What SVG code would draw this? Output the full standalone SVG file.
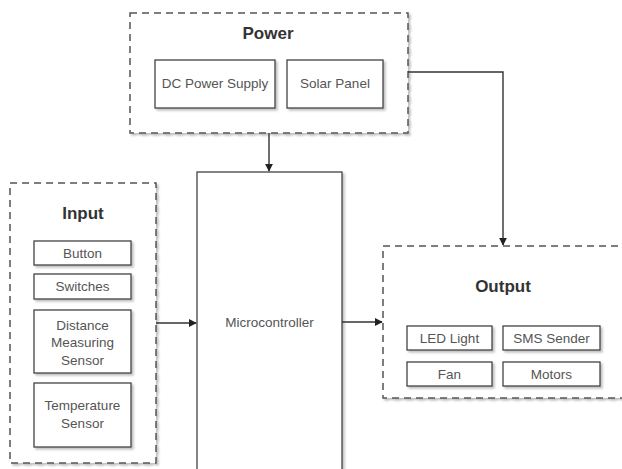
<svg xmlns="http://www.w3.org/2000/svg" width="622" height="469" viewBox="0 0 622 469">
<defs>
<marker id="ah" viewBox="0 0 10 10" refX="9" refY="5" markerWidth="8" markerHeight="8" markerUnits="userSpaceOnUse" orient="auto"><path d="M0,0 L10,5 L0,10 z" fill="#222"/></marker>
<filter id="sh" x="-10%" y="-10%" width="130%" height="130%"><feDropShadow dx="2" dy="2" stdDeviation="1" flood-color="#000" flood-opacity="0.25"/></filter>
</defs>
<style>
.grp{fill:#fff;stroke:#555;stroke-width:1.5;stroke-dasharray:7 5;filter:url(#sh)}
.box{fill:#fff;stroke:#444;stroke-width:1.3;filter:url(#sh)}
.lbl{font-family:"Liberation Sans",Arial,sans-serif;font-size:13.5px;fill:#555;text-anchor:middle}
.ttl{font-family:"Liberation Sans",Arial,sans-serif;font-size:17px;font-weight:bold;fill:#333;text-anchor:middle}
.con{fill:none;stroke:#333;stroke-width:1.4;marker-end:url(#ah)}
</style>
<rect width="622" height="469" fill="#fff"/>
<g id="power">
<rect class="grp" x="130" y="13" width="278" height="120"/>
<text class="ttl" x="268" y="39">Power</text>
<g id="dc"><rect class="box" x="155" y="60" width="120" height="48"/><text class="lbl" x="215" y="88">DC Power Supply</text></g>
<g id="solar"><rect class="box" x="287" y="60" width="96" height="48"/><text class="lbl" x="335" y="88">Solar Panel</text></g>
</g>
<g id="input">
<rect class="grp" x="10" y="183" width="146" height="280"/>
<text class="ttl" x="83" y="219">Input</text>
<g id="button"><rect class="box" x="34" y="241" width="97" height="24"/><text class="lbl" x="82.5" y="257.5">Button</text></g>
<g id="switches"><rect class="box" x="34" y="274" width="97" height="25"/><text class="lbl" x="82.5" y="291">Switches</text></g>
<g id="distance"><rect class="box" x="34" y="310" width="97" height="63"/><text class="lbl" x="82.5" y="330">Distance</text><text class="lbl" x="82.5" y="347">Measuring</text><text class="lbl" x="82.5" y="364.5">Sensor</text></g>
<g id="temperature"><rect class="box" x="34" y="383" width="97" height="64"/><text class="lbl" x="82.5" y="410">Temperature</text><text class="lbl" x="82.5" y="428">Sensor</text></g>
</g>
<g id="microcontroller">
<rect class="box" x="197" y="172" width="145" height="310"/>
<text class="lbl" x="269.5" y="327">Microcontroller</text>
</g>
<g id="output">
<rect class="grp" x="383" y="246" width="250" height="152"/>
<text class="ttl" x="503" y="292">Output</text>
<g id="led"><rect class="box" x="407" y="326" width="85" height="24"/><text class="lbl" x="449.5" y="343">LED Light</text></g>
<g id="sms"><rect class="box" x="503" y="326" width="97" height="24"/><text class="lbl" x="551.5" y="343">SMS Sender</text></g>
<g id="fan"><rect class="box" x="407" y="362" width="85" height="24"/><text class="lbl" x="449.5" y="379">Fan</text></g>
<g id="motors"><rect class="box" x="503" y="362" width="97" height="24"/><text class="lbl" x="551.5" y="379">Motors</text></g>
</g>
<g id="connectors">
<path class="con" d="M269,133 V171"/>
<path class="con" d="M408,72 H503 V245"/>
<path class="con" d="M156,323 H196"/>
<path class="con" d="M342,322 H382"/>
</g>
</svg>
